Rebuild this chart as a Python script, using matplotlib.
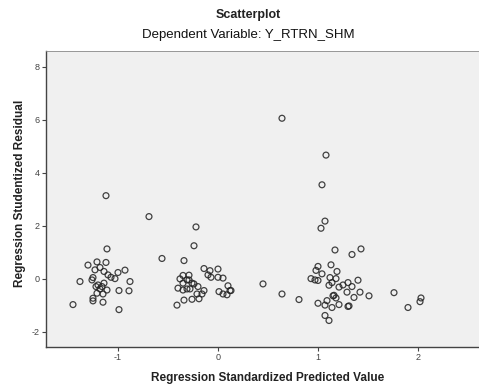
#residual scatterplot (regression diagnostics)
import matplotlib
matplotlib.use('Agg')
import matplotlib.pyplot as plt

#predicted values (standardized) and studentized residuals
pred_left = [-1.12, -1.11, -1.30, -1.21, -1.12, -1.23, -1.18, -1.14, -1.10, -1.07,
             -1.03, -1.00, -0.93, -0.88, -1.38, -1.26, -1.25, -1.22, -1.20, -1.16,
             -1.14, -1.18, -1.11, -1.21, -1.15, -0.99, -0.89, -1.25, -1.25, -1.15,
             -1.45, -0.99]
resid_left = [3.14, 1.13, 0.52, 0.64, 0.62, 0.34, 0.43, 0.28, 0.15, 0.06,
              0.01, 0.24, 0.33, -0.10, -0.10, -0.04, 0.05, -0.29, -0.23, -0.29,
              -0.16, -0.38, -0.42, -0.54, -0.57, -0.44, -0.45, -0.73, -0.83, -0.88,
              -0.97, -1.16]

pred_mid = [-0.69, -0.22, -0.24, -0.56, -0.34, -0.41, -0.34, -0.26, -0.19, -0.38,
            -0.35, -0.29, -0.31, -0.29, -0.35, -0.26, -0.24, -0.40, -0.35, -0.31,
            -0.28, -0.20, -0.21, -0.16, -0.14, -0.14, -0.08, -0.10, -0.07, 0.00,
            0.00, 0.05, 0.10, 0.12, 0.01, 0.05, 0.09, 0.13]
resid_mid = [2.35, 1.96, 1.25, 0.77, 0.69, -0.99, -0.80, -0.77, -0.75, 0.00,
             0.13, 0.14, -0.04, -0.04, -0.16, -0.16, -0.19, -0.35, -0.42, -0.38,
             -0.38, -0.29, -0.57, -0.57, -0.44, 0.39, 0.31, 0.15, 0.06, 0.37,
             0.06, 0.03, -0.26, -0.44, -0.48, -0.57, -0.60, -0.44]

pred_right = [0.64, 1.08, 1.04, 1.07, 1.03, 1.17, 1.34, 1.43, 1.00, 0.98,
              1.04, 1.13, 1.19, 0.93, 0.97, 1.00, 1.12, 1.18, 1.11, 1.14,
              1.21, 1.25, 1.30, 1.34, 1.40, 1.29, 1.42, 1.51, 1.36, 1.15,
              1.16, 1.18, 1.09, 1.00, 1.07, 1.14, 1.21, 1.30, 1.31, 1.07,
              1.11, 1.76, 1.90, 2.03, 2.02, 0.45, 0.64, 0.81]
resid_right = [6.06, 4.67, 3.55, 2.18, 1.91, 1.09, 0.92, 1.13, 0.47, 0.32,
               0.19, 0.53, 0.28, 0.01, -0.04, -0.06, 0.05, 0.01, -0.24, -0.14,
               -0.31, -0.23, -0.14, -0.29, -0.05, -0.50, -0.50, -0.64, -0.70, -0.64,
               -0.62, -0.72, -0.82, -0.92, -0.99, -1.08, -0.97, -1.04, -1.02, -1.38,
               -1.57, -0.52, -1.08, -0.72, -0.86, -0.19, -0.57, -0.78]

x_ticks = [-1, 0, 1, 2]
y_ticks = [-2, 0, 2, 4, 6, 8]

plt.rcParams['font.family'] = ['Liberation Sans', 'DejaVu Sans']
plt.rcParams['axes.unicode_minus'] = False

fig = plt.figure(figsize=(4.79, 3.85), dpi=100)
ax = fig.add_axes([0.096, 0.0987, 0.904, 0.769])
ax.set_facecolor('#f0f0f0')

x = pred_left + pred_mid + pred_right
y = resid_left + resid_mid + resid_right
ax.scatter(x, y, s=18, facecolors='none', edgecolors='#222222',
           linewidths=0.9, alpha=0.85)

ax.set_xlim(-1.72, 2.61)
ax.set_ylim(-2.57, 8.6)
ax.set_xticks(x_ticks)
ax.set_yticks(y_ticks)
ax.tick_params(direction='out', length=3, width=0.8, labelsize=6.5,
               colors='#444444', pad=1.5)

for side in ['left', 'bottom']:
    ax.spines[side].set_color('#444444')
    ax.spines[side].set_linewidth(1.0)
for side in ['top', 'right']:
    ax.spines[side].set_color('#888888')
    ax.spines[side].set_linewidth(0.6)

fig.text(248/479, 1 - 15/385, 'Scatterplot', ha='center', va='center',
         fontsize=9, fontweight='bold', color='#222222')
fig.text(248/479, 1 - 35/385, 'Dependent Variable: Y_RTRN_SHM', ha='center',
         va='center', fontsize=9.5, color='#111111')
fig.text(268/479, 1 - 378/385, 'Regression Standardized Predicted Value',
         ha='center', va='center', fontsize=8.5, fontweight='bold', color='#222222')
fig.text(20/479, 1 - 193/385, 'Regression Studentized Residual', ha='center',
         va='center', rotation=90, fontsize=8.5, fontweight='bold', color='#222222')

fig.savefig('out.png', dpi=100)
